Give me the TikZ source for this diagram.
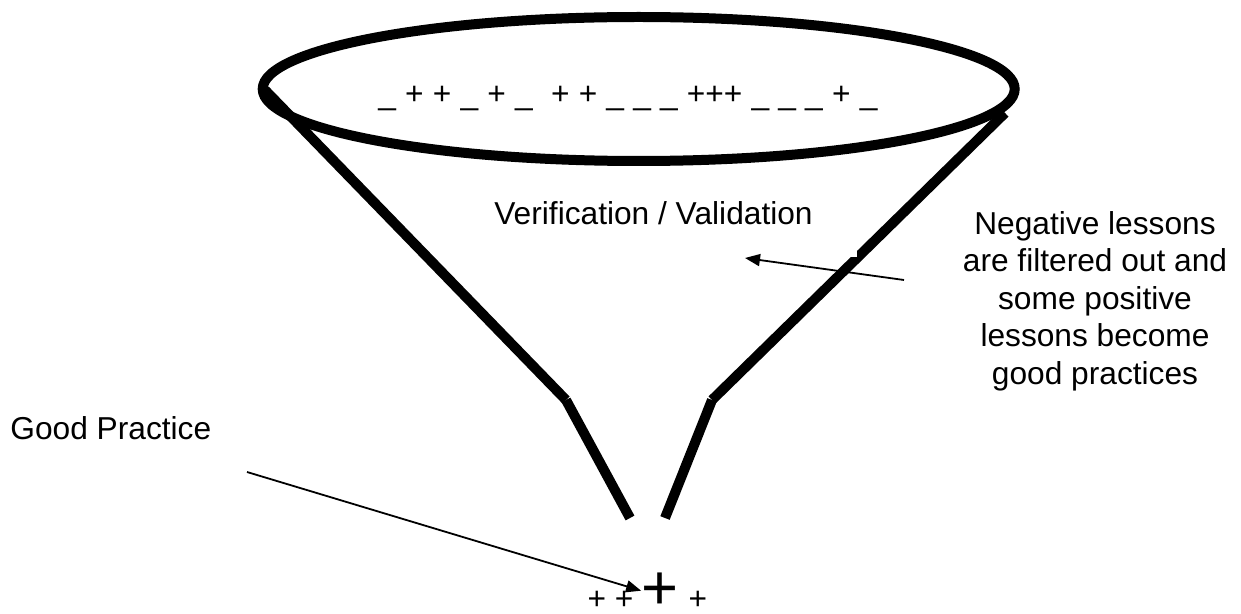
\documentclass[tikz,border=0pt]{standalone}
\usepackage{fontspec}
\setmainfont{Liberation Sans}
\usetikzlibrary{arrows.meta,positioning}

\def\ps{0.017573}

\begin{document}
\begin{tikzpicture}[
  funnel/.style={line width=5pt},
  pointer/.style={line width=0.9pt,-{Triangle[length=7.5pt,width=6pt]}},
  txt/.style={inner sep=0pt,font=\fontsize{15.85pt}{18.75pt}\selectfont},
  cover/.style={txt,fill=white}]
\useasboundingbox (0,0) rectangle (1241*\ps,-614*\ps);
\draw[funnel] (638.7*\ps,-89*\ps) ellipse [x radius=376*\ps, y radius=72*\ps];
\draw[funnel] ( 265*\ps, -90*\ps) -- (566*\ps,-400*\ps);
\draw[funnel] ( 566*\ps,-400*\ps) -- (630*\ps,-518*\ps);
\draw[funnel] (1005*\ps,-113*\ps) -- (712*\ps,-400*\ps);
\draw[funnel] ( 712*\ps,-400*\ps) -- (665*\ps,-518*\ps);
% signs inside the rim, on a white strip
\node[cover,anchor=south west,inner xsep=10pt,text depth=12.5pt] (lessons) at (358*\ps,-130*\ps)
  {\makebox[261pt][l]{\spaceskip=.29em\relax \_ + + \_ + \_ \ + + \_ \_ \_ +++ \_ \_ \_ + \_}};
\node[cover,anchor=base east,inner xsep=22pt,text depth=16.5pt] (filter) at (857*\ps,-224*\ps) {Verification / Validation};
\node[txt,align=center] (note) at (1095*\ps,-301*\ps) {Negative lessons\\are filtered out and\\some positive\\lessons become\\good practices};
\node[txt,anchor=base west] (gp) at (10*\ps,-439*\ps) {Good Practice};
\node[txt,font=\fontsize{31.7pt}{36pt}\selectfont,anchor=base] (best) at (660*\ps,-609*\ps) {+};
\node[txt,base left=3.6pt of best] (plus l) {+ +};
\node[txt,base right=4.6pt of best] (plus r) {+};
\coordinate (note tail) at (904*\ps,-280*\ps);
\coordinate (note head) at (745*\ps,-258*\ps);
\coordinate (gp tail) at (247*\ps,-472*\ps);
\draw[pointer] (note tail) -- (note head);
\draw[pointer] (gp tail) -- (best.west);
\end{tikzpicture}
\end{document}
